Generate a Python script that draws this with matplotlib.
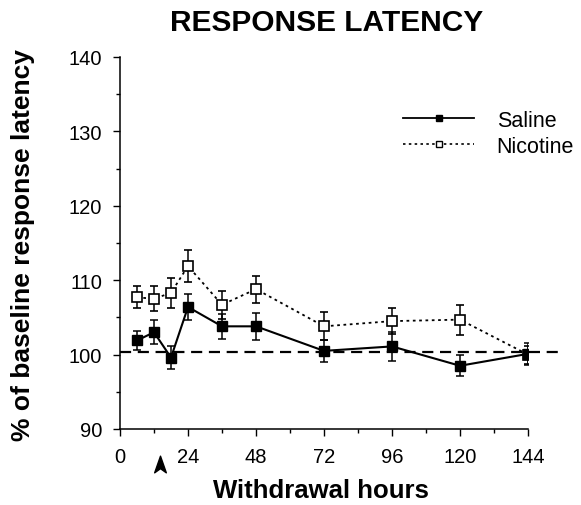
"""Response latency after withdrawal: saline vs nicotine."""

import matplotlib
matplotlib.use("Agg")
import matplotlib.pyplot as plt
from matplotlib.lines import Line2D
from matplotlib.path import Path
from matplotlib.ticker import MultipleLocator
import matplotlib.transforms as mtransforms

plt.rcParams["font.family"] = ["Liberation Sans", "DejaVu Sans"]

# Datos
hours = [6, 12, 18, 24, 36, 48, 72, 96, 120, 144]
saline = [101.9, 103.0, 99.6, 106.4, 103.8, 103.8, 100.5, 101.1, 98.5, 100.1]
saline_sem = [1.3, 1.6, 1.5, 1.8, 1.7, 1.8, 1.5, 1.9, 1.4, 1.5]
nicotine = [107.7, 107.5, 108.3, 111.9, 106.7, 108.8, 103.8, 104.5, 104.7, 100.0]
nicotine_sem = [1.5, 1.7, 2.0, 2.2, 1.9, 1.8, 1.9, 1.7, 2.0, 1.2]
baseline = 100.3
arrow_hour = 14

fig = plt.figure(figsize=(5.81, 5.06), dpi=100)
ax = fig.add_axes([120 / 581, 1 - 430 / 506, 408 / 581, 372 / 506])

nic_style = (0, (1.5, 2.0))
ax.errorbar(hours, nicotine, yerr=nicotine_sem, color="black", linestyle=nic_style,
            linewidth=1.3, marker="s", markersize=7, markerfacecolor="white",
            markeredgecolor="black", markeredgewidth=1.2, capsize=3, elinewidth=1.1,
            capthick=1.1, zorder=3)
ax.errorbar(hours, saline, yerr=saline_sem, color="black", linestyle="-",
            linewidth=1.5, marker="s", markersize=7, markerfacecolor="black",
            markeredgecolor="black", capsize=3, elinewidth=1.1, capthick=1.1,
            zorder=4)

ax.plot([0, 155], [baseline, baseline], color="black", linestyle=(0, (5, 3)),
        linewidth=1.6, clip_on=False, zorder=2)

ax.set_xlim(0, 144)
ax.set_ylim(90, 140)
ax.xaxis.set_major_locator(MultipleLocator(24))
ax.xaxis.set_minor_locator(MultipleLocator(12))
ax.yaxis.set_major_locator(MultipleLocator(10))
ax.yaxis.set_minor_locator(MultipleLocator(5))
ax.tick_params(which="major", direction="out", length=5, width=1, labelsize=14.5, pad=8)
ax.tick_params(which="minor", direction="out", length=3, width=1)
for side in ("top", "right"):
    ax.spines[side].set_visible(False)
for side in ("left", "bottom"):
    ax.spines[side].set_linewidth(1.1)

fig.text(327 / 581, 1 - 23 / 506, "RESPONSE LATENCY", fontsize=21.5, fontweight="bold",
         ha="center", va="center")
ax.set_xlabel("Withdrawal hours", fontsize=18.5, fontweight="bold")
ax.set_ylabel("% of baseline response latency", fontsize=19, fontweight="bold")
ax.xaxis.set_label_coords(0.493, -0.132)
ax.yaxis.set_label_coords(-0.208, 0.497)

# Flecha de la hora de retirada bajo el eje x
arrow = Path([(0, 1), (0.7, -1), (0, -0.5), (-0.7, -1), (0, 1)],
             [Path.MOVETO, Path.LINETO, Path.LINETO, Path.LINETO, Path.CLOSEPOLY])
trans = mtransforms.blended_transform_factory(ax.transData, ax.transAxes)
ax.plot([arrow_hour], [-0.094], marker=arrow, markersize=12, color="black",
        transform=trans, clip_on=False)

handles = [
    Line2D([], [], color="black", linestyle="-", linewidth=1.3, marker="s",
           markersize=4.5, markerfacecolor="black"),
    Line2D([], [], color="black", linestyle=nic_style, linewidth=1.2, marker="s",
           markersize=4.5, markerfacecolor="white"),
]
fig.legend(handles, ["Saline", "Nicotine"], loc="upper left",
           bbox_to_anchor=(403 / 581, 1 - 111 / 506), frameon=False, fontsize=15.5,
           handlelength=3.3, labelspacing=0.22, handletextpad=1.05, borderpad=0,
           borderaxespad=0)

fig.savefig("out.png", dpi=100, facecolor="white")
